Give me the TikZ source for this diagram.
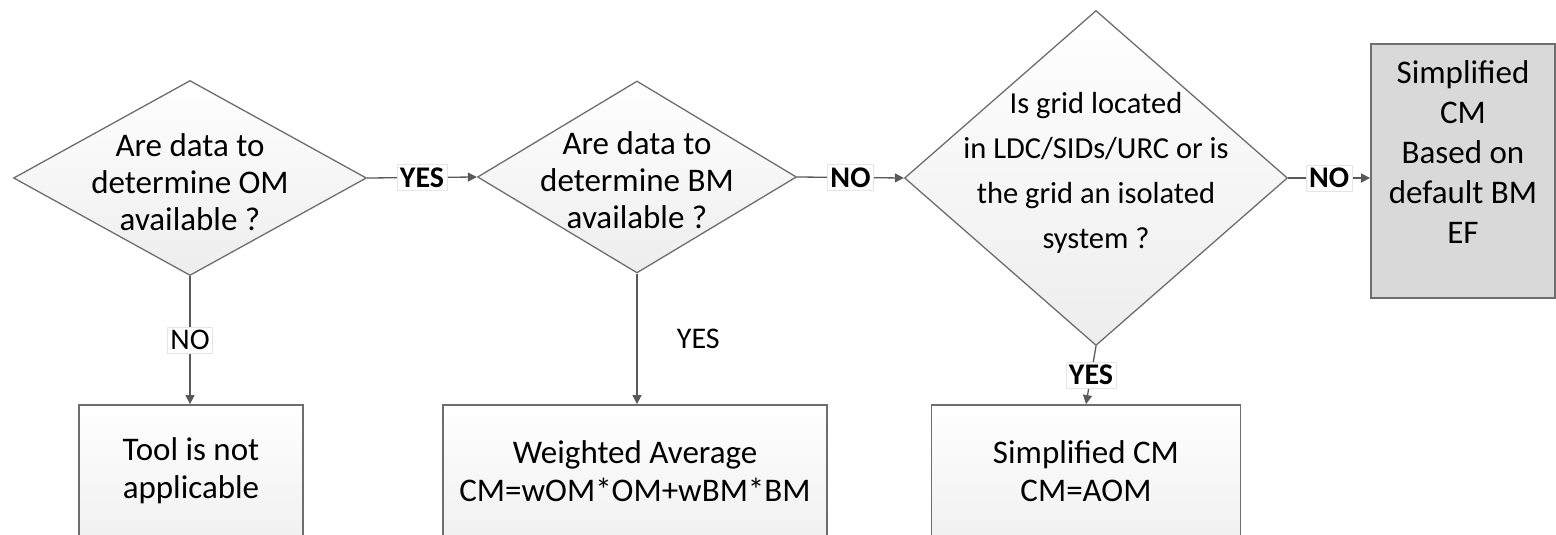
\documentclass[tikz,border=0pt]{standalone}
\usepackage{fontspec}
\setmainfont{Carlito}
\usetikzlibrary{shapes.geometric,arrows.meta}

\definecolor{linegray}{HTML}{595959}
\definecolor{edgegray}{HTML}{6E6E6E}
\definecolor{boxgray}{HTML}{D9D9D9}

\tikzset{
  decision/.style={diamond, draw=edgegray, line width=1.3pt, inner sep=0pt,
    top color=white, bottom color=black!7},
  txt/.style={align=center, font=\fontsize{33}{37}\selectfont},
  result/.style={rectangle, draw=edgegray, line width=1.8pt,
    top color=white, bottom color=black!6},
  flow/.style={draw=linegray, line width=1.3pt,
    -{Triangle[length=9pt,width=9pt]}},
  answer/.style={fill=white, draw=black!10, line width=0.4pt, inner sep=3pt,
    font=\fontsize{30}{32}\selectfont},
  boldanswer/.style={answer, font=\bfseries\fontsize{30}{32}\selectfont}
}

\begin{document}
\begin{tikzpicture}[x=1pt,y=-1pt]
\useasboundingbox (0,0) rectangle (1556,535);
% \draw [help lines,step=50] (0,0) grid (1556,535);

% questions
\node [decision, minimum width=353, minimum height=195,
  label={[txt,yshift=-4pt]center:Are data to\\determine OM\\available ?}] (om) at (190,178) {};
\node [decision, minimum width=319, minimum height=192,
  label={[txt,yshift=-3pt]center:Are data to\\determine BM\\available ?}] (bm) at (637,177) {};
\node [decision, minimum width=383, minimum height=335,
  label={[txt,font=\fontsize{30.5}{45}\selectfont,yshift=5pt]center:Is grid located\\in LDC/SIDs/URC or is\\the grid an isolated\\system ?}] (grid) at (1096,178) {};

% outcomes
\node [result, minimum width=224, minimum height=140,
  label={[txt,font=\fontsize{33}{38}\selectfont,yshift=4pt]center:Tool is not\\applicable}] (notool) at (191,475) {};
\node [result, minimum width=384, minimum height=140,
  label={[txt,font=\fontsize{33}{38}\selectfont,yshift=4pt]center:Weighted Average\\CM=wOM*OM+wBM*BM}] (wavg) at (635,475) {};
\node [result, minimum width=309, minimum height=140,
  label={[txt,font=\fontsize{33}{38}\selectfont,yshift=4pt]center:Simplified CM\\CM=AOM}] (simple) at (1086,475) {};
\node [result, top color=boxgray, bottom color=boxgray,
  minimum width=184, minimum height=254,
  label={[txt,font=\fontsize{33}{40}\selectfont,yshift=19pt]center:Simplified\\CM\\Based on\\default BM\\EF}] (default) at (1463,171) {};

% connectors
\draw [flow] (om.east) -- node [boldanswer] {YES} (bm.west);
\draw [flow] (bm.east) -- node [boldanswer] {NO} (grid.west);
\draw [flow] (grid.east) -- node [boldanswer] {NO} (default.west |- grid.east);
\draw [flow] (om.south) -- node [answer] {NO} (notool.north -| om.south);
\draw [flow] (bm.south) -- node [right=36pt, font=\fontsize{30}{32}\selectfont] {YES} (wavg.north -| bm.south);
\draw [flow] (grid.south) -- node [boldanswer] {YES} (simple.north);
\end{tikzpicture}
\end{document}
